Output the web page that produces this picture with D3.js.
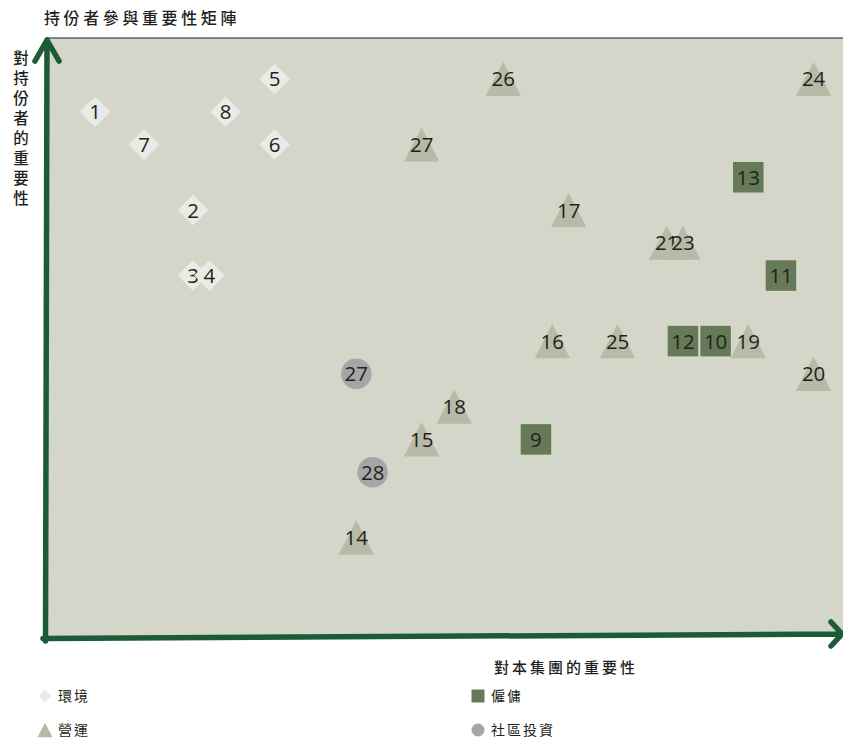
<!DOCTYPE html>
<html>
<head>
<meta charset="utf-8">
<script src="https://cdn.jsdelivr.net/npm/d3@7"></script>
<style>
  body { margin: 0; background: #fff; }
  svg { display: block; }
  .cjk { font-family: "Noto Sans CJK TC", "Noto Sans", sans-serif; fill: #231f20; }
  .lbl { font-family: "Open Sans", "Noto Sans", sans-serif; font-size: 20.5px; fill: #231f20; }
</style>
</head>
<body>
<div id="chart"></div>
<script>
// stakeholder matrix data
const labels = ["1","2","3","4","5","6","7","8",
                "9","10","11","12","13",
                "14","15","16","17","18","19","20","21","23","24","25","26","27",
                "27","28"];
const groups = ["env","env","env","env","env","env","env","env",
                "emp","emp","emp","emp","emp",
                "ops","ops","ops","ops","ops","ops","ops","ops","ops","ops","ops","ops","ops",
                "com","com"];
// importance to the group (x) and to stakeholders (y)
const xVals = [3, 9, 9, 10, 14, 14, 6, 11,
               30, 41, 45, 39, 43,
               19, 23, 31, 32, 25, 43, 47, 38, 39, 47, 35, 28, 23,
               19, 20];
const yVals = [32, 26, 22, 22, 34, 30, 30, 32,
               12, 18, 22, 18, 28,
               6, 12, 18, 26, 14, 18, 16, 24, 24, 34, 18, 34, 30,
               16, 10];
const legendKeys = ["env", "ops", "emp", "com"];
const legendNames = ["環境", "營運", "僱傭", "社區投資"];

const title = "持份者參與重要性矩陣";
const yTitle = "對持份者的重要性";
const xTitle = "對本集團的重要性";

const width = 843, height = 739;
const colors = { env: "#ebebe5", ops: "#b6baa6", emp: "#667a58", com: "#a6a6a9" };
const green = "#1d5a36";

const svg = d3.select("#chart").append("svg")
  .attr("width", width)
  .attr("height", height);

const x = d3.scaleLinear().domain([0, 48.8]).range([46, 843]);
const y = d3.scaleLinear().domain([0, 36.5]).range([636, 38]);

// plot area
svg.append("rect")
  .attr("x", x(0)).attr("y", y(36.5))
  .attr("width", x(48.8) - x(0)).attr("height", y(0) - y(36.5))
  .attr("fill", "#d4d6ca");
svg.append("line")
  .attr("x1", x(0)).attr("x2", x(48.8))
  .attr("y1", y(36.5)).attr("y2", y(36.5))
  .attr("stroke", "#231f20").attr("stroke-width", 1.2);

// axes with arrows
svg.append("path")
  .attr("d", "M45.5,641 L47,40 M35,61 L47,40 L59,61")
  .attr("fill", "none").attr("stroke", green)
  .attr("stroke-width", 5.5).attr("stroke-linecap", "round").attr("stroke-linejoin", "round");
svg.append("path")
  .attr("d", "M43,638.5 L841,634 M831,622 L842,634 L831,646")
  .attr("fill", "none").attr("stroke", green)
  .attr("stroke-width", 5.5).attr("stroke-linecap", "round").attr("stroke-linejoin", "round");

// titles
svg.append("text").attr("class", "cjk")
  .attr("x", 44).attr("y", 24)
  .style("font-size", "16px").style("font-weight", 500).style("letter-spacing", "3.6px")
  .text(title);

svg.append("g").selectAll("text")
  .data(yTitle.split(""))
  .join("text").attr("class", "cjk")
  .attr("x", 21).attr("y", (d, i) => 64 + i * 20)
  .attr("text-anchor", "middle")
  .style("font-size", "15.5px").style("font-weight", 500)
  .text(d => d);

svg.append("text").attr("class", "cjk")
  .attr("x", 494).attr("y", 673)
  .style("font-size", "15px").style("font-weight", 500).style("letter-spacing", "3px")
  .text(xTitle);

// symbol shapes
function drawShape(g, type, s) {
  if (type === "env") {
    g.append("path").attr("d", `M0,${-s/2} L${s/2},0 L0,${s/2} L${-s/2},0 Z`);
  } else if (type === "ops") {
    const w = s * 1.16, h = s * 1.12;
    g.append("path").attr("d", `M0,${-h/2} L${w/2},${h/2} L${-w/2},${h/2} Z`);
  } else if (type === "emp") {
    g.append("rect").attr("x", -s/2).attr("y", -s/2).attr("width", s).attr("height", s);
  } else {
    g.append("circle").attr("r", s/2);
  }
}

const pts = labels.map((l, i) => ({ label: l, group: groups[i], x: xVals[i], y: yVals[i] }));

const node = svg.append("g").selectAll("g")
  .data(pts)
  .join("g")
  .attr("transform", d => `translate(${x(d.x)},${y(d.y)})`)
  .attr("fill", d => colors[d.group])
  .each(function(d) { drawShape(d3.select(this), d.group, 30.5); });

node.append("text").attr("class", "lbl")
  .attr("text-anchor", "middle")
  .attr("dominant-baseline", "central")
  .attr("y", -0.5)
  .text(d => d.label);

// legend
const legPos = [[45, 696], [45, 730], [478, 696], [478, 730]];
const leg = svg.append("g").selectAll("g")
  .data(legendKeys)
  .join("g")
  .attr("transform", (d, i) => `translate(${legPos[i][0]},${legPos[i][1]})`)
  .attr("fill", d => colors[d])
  .each(function(d) { drawShape(d3.select(this), d, 13); });

leg.append("text").attr("class", "cjk")
  .attr("x", 13).attr("y", 5)
  .style("font-size", "14px").style("letter-spacing", "2px")
  .text((d, i) => legendNames[i]);
</script>
</body>
</html>
